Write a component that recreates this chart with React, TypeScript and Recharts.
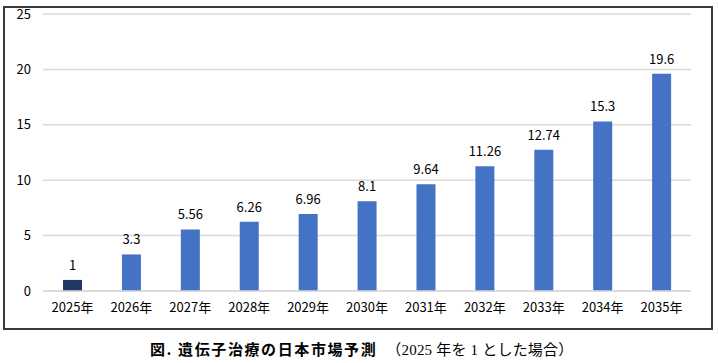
import React from "react";
import { BarChart, Bar, XAxis, YAxis, CartesianGrid, LabelList, Cell } from "recharts";

const categories = ["2025年", "2026年", "2027年", "2028年", "2029年", "2030年", "2031年", "2032年", "2033年", "2034年", "2035年"];
const values = [1, 3.3, 5.56, 6.26, 6.96, 8.1, 9.64, 11.26, 12.74, 15.3, 19.6];
const yTicks = [0, 5, 10, 15, 20, 25];
const captionMain = "図. 遺伝子治療の日本市場予測";
const captionSub = "（2025 年を 1 とした場合）";

const data = categories.map((c, i) => ({ name: c, value: values[i] }));

const font = "'Noto Sans CJK JP', 'Noto Sans', sans-serif";

export default function App() {
  return (
    <div style={{ position: "absolute", left: 0, top: 0, width: 718, height: 363, background: "#fff" }}>
      <div
        style={{
          position: "absolute",
          left: 3,
          top: 6,
          width: 706,
          height: 320,
          border: "2px solid #3a3a3a",
          boxSizing: "content-box",
        }}
      />
      <div style={{ position: "absolute", left: 0, top: 0 }}>
        <BarChart
          width={718}
          height={363}
          data={data}
          margin={{ top: 14, right: 27, bottom: 42, left: 3 }}
          barCategoryGap="34%"
        >
          <CartesianGrid vertical={false} stroke="#d9d9d9" strokeWidth={1.5} />
          <XAxis
            dataKey="name"
            axisLine={{ stroke: "#d9d9d9", strokeWidth: 1.5 }}
            tickLine={false}
            tickSize={0}
            tickMargin={12}
            height={30}
            interval={0}
            tick={{ fill: "#000", fontSize: 13, fontFamily: font }}
          />
          <YAxis
            domain={[0, 25]}
            ticks={yTicks}
            width={40}
            axisLine={false}
            tickLine={false}
            tickSize={0}
            tickMargin={12}
            tick={{ fill: "#000", fontSize: 13, fontFamily: font }}
          />
          <Bar dataKey="value" isAnimationActive={false} fill="#4472C4">
            {data.map((d, i) => (
              <Cell key={d.name} fill={i === 0 ? "#203864" : "#4472C4"} />
            ))}
            <LabelList
              dataKey="value"
              position="top"
              offset={10}
              style={{ fill: "#000", fontSize: 13, fontFamily: font }}
            />
          </Bar>
        </BarChart>
      </div>
      <div
        style={{
          position: "absolute",
          left: 150,
          top: 339,
          fontSize: 15,
          lineHeight: "20px",
          color: "#000",
          whiteSpace: "nowrap",
        }}
      >
        <span style={{ fontFamily: font, fontWeight: "bold", letterSpacing: 1.6 }}>{captionMain}</span>
        <span
          style={{
            fontFamily: "'Liberation Serif', 'Noto Sans CJK JP', serif",
            fontSize: 15,
            marginLeft: 9,
            letterSpacing: 0.2,
          }}
        >
          {captionSub}
        </span>
      </div>
    </div>
  );
}
